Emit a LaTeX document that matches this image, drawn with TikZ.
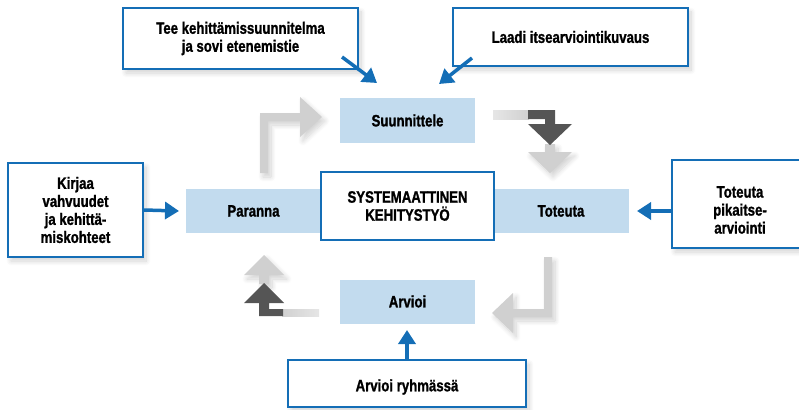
\documentclass[tikz,border=0pt]{standalone}
\usepackage{fontspec}
\setmainfont[FakeStretch=0.8,BoldFeatures={FakeBold=1.2}]{Liberation Sans}
\usetikzlibrary{arrows.meta,calc,shadows.blur}
\definecolor{lblue}{RGB}{194,219,238}
\definecolor{bblue}{RGB}{20,110,182}
\definecolor{agray}{RGB}{208,208,208}
\definecolor{alight}{RGB}{230,230,230}
\definecolor{dgray}{RGB}{85,85,85}
\begin{document}
\begin{tikzpicture}[x=1pt,y=-1pt,
  txt/.style={font=\bfseries\fontsize{16.5}{18}\selectfont, align=center, text=black},
  stage/.style={txt, fill=lblue, minimum width=135pt, minimum height=44pt, inner sep=0pt},
  softshadow/.style={blur shadow={shadow xshift=3pt, shadow yshift=-4pt, shadow blur radius=5pt, shadow blur steps=10, shadow opacity=18}},
  callout/.style={txt, draw=bblue, line width=2pt, fill=white, inner sep=0pt, softshadow},
  barrow/.style={draw=bblue, line width=3.5pt, -{Triangle[length=14pt,width=17pt]}},
  garrow/.style={fill=agray, softshadow},
  darrow/.style={fill=dgray},
]
\useasboundingbox (0,0) rectangle (799,409);

% stage boxes
\node[stage] (suun) at (407.5,120.5) {Suunnittele};
\node[stage] (par) at (253.5,211) {Paranna};
\node[stage] (tot) at (561,211) {Toteuta};
\node[stage] (arv) at (407.5,301.5) {Arvioi};
\node[txt, draw=bblue, line width=2pt, fill=white, minimum width=173pt, minimum height=68pt, inner sep=0pt] (mid) at (407.5,206) {SYSTEMAATTINEN\\KEHITYSTYÖ};

% gray bent arrows
\fill[garrow] (260,173) -- (260,113) -- (300,113) -- (300,97) -- (322,117) -- (300,137) -- (300,121) -- (268,121) -- (268,173) -- cycle;
\fill[garrow] (544,257) -- (552,257) -- (552,317) -- (513,317) -- (513,333) -- (492,313) -- (513,293) -- (513,309) -- (544,309) -- cycle;
% top-right
\shade[left color=alight, right color=agray] (493,110) rectangle (529,119);
\fill[garrow] (545,144) -- (555,144) -- (555,152) -- (572,152) -- (550,173) -- (528,152) -- (545,152) -- cycle;
\fill[darrow] (528,110) -- (555,110) -- (555,124) -- (572,124) -- (550,145) -- (528,124) -- (545,124) -- (545,119) -- (528,119) -- cycle;
% bottom-left
\shade[left color=agray, right color=alight] (282,309) rectangle (319,316);
\fill[garrow] (259,284) -- (259,275) -- (244,275) -- (264,255) -- (284,275) -- (269,275) -- (269,284) -- cycle;
\fill[darrow] (283,309) -- (283,316) -- (259,316) -- (259,303) -- (244,303) -- (264,283) -- (284,303) -- (269,303) -- (269,309) -- cycle;

% callouts
\node[callout, minimum width=235pt, minimum height=61pt] (c1) at (240.5,38.5) {Tee kehittämissuunnitelma\\ja sovi etenemistie};
\node[callout, minimum width=235pt, minimum height=58pt] (c2) at (570.5,37) {Laadi itsearviointikuvaus};
\node[callout, minimum width=135pt, minimum height=94pt] (c3) at (75.5,210) {Kirjaa\\vahvuudet\\ja kehittä-\\miskohteet};
\node[callout, minimum width=136pt, minimum height=88pt] (c4) at (740,204) {};
\node[txt] (c4t) at (740,210) {Toteuta\\pikaitse-\\arviointi};
\node[callout, minimum width=238pt, minimum height=47pt] (c5) at (407,383.5) {};
\node[txt] (c5t) at (407,387) {Arvioi ryhmässä};

% blue arrows
\coordinate (s1) at ($(c1.south east)+(-17,-13)$);
\coordinate (t1) at (377,83);
\coordinate (s2) at ($(c2.south west)+(20,-9)$);
\coordinate (t2) at (439,84);
\coordinate (t3) at (179,211);
\coordinate (t4) at (637,211);
\coordinate (t5) at (407,330);
\draw[barrow] (s1) -- (t1);
\draw[barrow] (s2) -- (t2);
\draw[barrow] (c3.east) -- (t3);
\draw[barrow] (c4.west |- t4) -- (t4);
\draw[barrow] (c5.north) -- (t5);
\end{tikzpicture}
\end{document}
